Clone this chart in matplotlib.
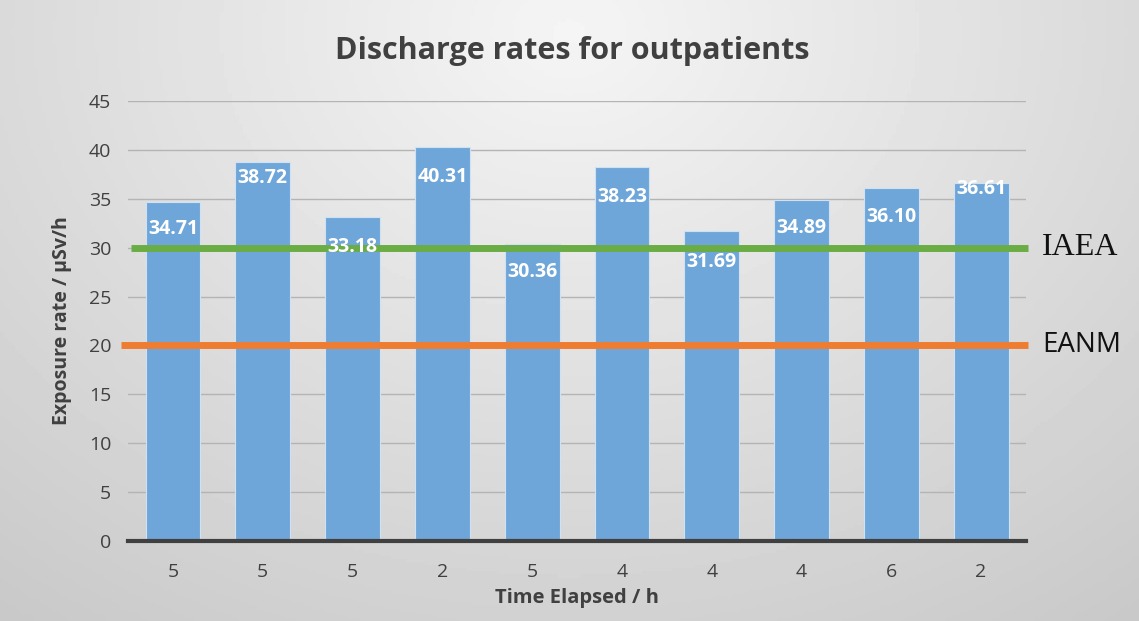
import numpy as np
import matplotlib.pyplot as plt

# --- chart data ---
time_elapsed = ["5", "5", "5", "2", "5", "4", "4", "4", "6", "2"]
exposure_rate = [34.71, 38.72, 33.18, 40.31, 30.36, 38.23, 31.69, 34.89, 36.10, 36.61]
label_drop = [27, 16, 30, 30, 28, 30, 31, 28, 29, 6]  # label offset below bar top (px)

limit_names = ["IAEA", "EANM"]
limit_values = [30, 20]
limit_colors = ["#6aad45", "#ef7d31"]

plt.rcParams["font.family"] = ["Open Sans", "DejaVu Sans"]

fig = plt.figure(figsize=(11.39, 6.21), dpi=100)

# gradient grey background
bg = fig.add_axes([0, 0, 1, 1], zorder=-10)
yy, xx = np.mgrid[0:1:200j, 0:1:300j]
r = np.sqrt(((xx - 0.5) / 0.75) ** 2 + ((yy - 0.05) / 1.1) ** 2)
bg.imshow(0.96 - 0.16 * r, cmap="gray", vmin=0, vmax=1, aspect="auto",
          extent=[0, 1, 1, 0])
bg.axis("off")

ax = fig.add_axes([0.1124, 0.1288, 0.7884, 0.7086])
ax.set_facecolor("none")
x = np.arange(len(exposure_rate))

bars = ax.bar(x, exposure_rate, width=0.61, color="#6fa6d9",
              edgecolor="#cfe2f3", linewidth=0.8, zorder=2)

for xi, v, d in zip(x, exposure_rate, label_drop):
    ax.annotate(f"{v:.2f}", (xi, v), xytext=(0, -d), textcoords="offset pixels",
                ha="center", va="center", color="white", fontsize=14,
                fontweight="bold", zorder=4)

# limit lines
ax.plot([-0.47, 9.52], [limit_values[0]] * 2, color=limit_colors[0], lw=5,
        solid_capstyle="butt", clip_on=False, zorder=3)
ax.plot([-0.58, 9.52], [limit_values[1]] * 2, color=limit_colors[1], lw=5,
        solid_capstyle="butt", clip_on=False, zorder=3)
ax.text(9.68, limit_values[0], limit_names[0], fontsize=23, va="center",
        family=["Liberation Serif"], color="#111111")
ax.text(9.68, limit_values[1], limit_names[1], fontsize=20, va="center",
        color="#111111")

ax.set_xlim(-0.5, 9.5)
ax.set_ylim(0, 45)
ax.set_yticks(range(0, 46, 5))
ax.set_xticks(x)
ax.set_xticklabels(time_elapsed)
ax.tick_params(length=0, labelsize=14, colors="#404040")
ax.tick_params(axis="y", pad=12)
ax.tick_params(axis="x", pad=16)
ax.grid(axis="y", color="#b4b4b4", lw=1, zorder=0)
ax.set_axisbelow(True)
for s in ["top", "right", "left"]:
    ax.spines[s].set_visible(False)
ax.spines["bottom"].set_color("#404040")
ax.spines["bottom"].set_linewidth(3)
ax.spines["bottom"].set_zorder(5)

ax.set_xlabel("Time Elapsed / h", fontsize=14.5, fontweight="bold",
              color="#404040", labelpad=5)
ax.set_ylabel("Exposure rate / µSv/h", fontsize=14, fontweight="bold",
              color="#404040", labelpad=12)
fig.text(0.502, 0.918, "Discharge rates for outpatients", ha="center",
         va="center", fontsize=22, fontweight="bold", color="#404040")

fig.savefig("out.png", dpi=100)
